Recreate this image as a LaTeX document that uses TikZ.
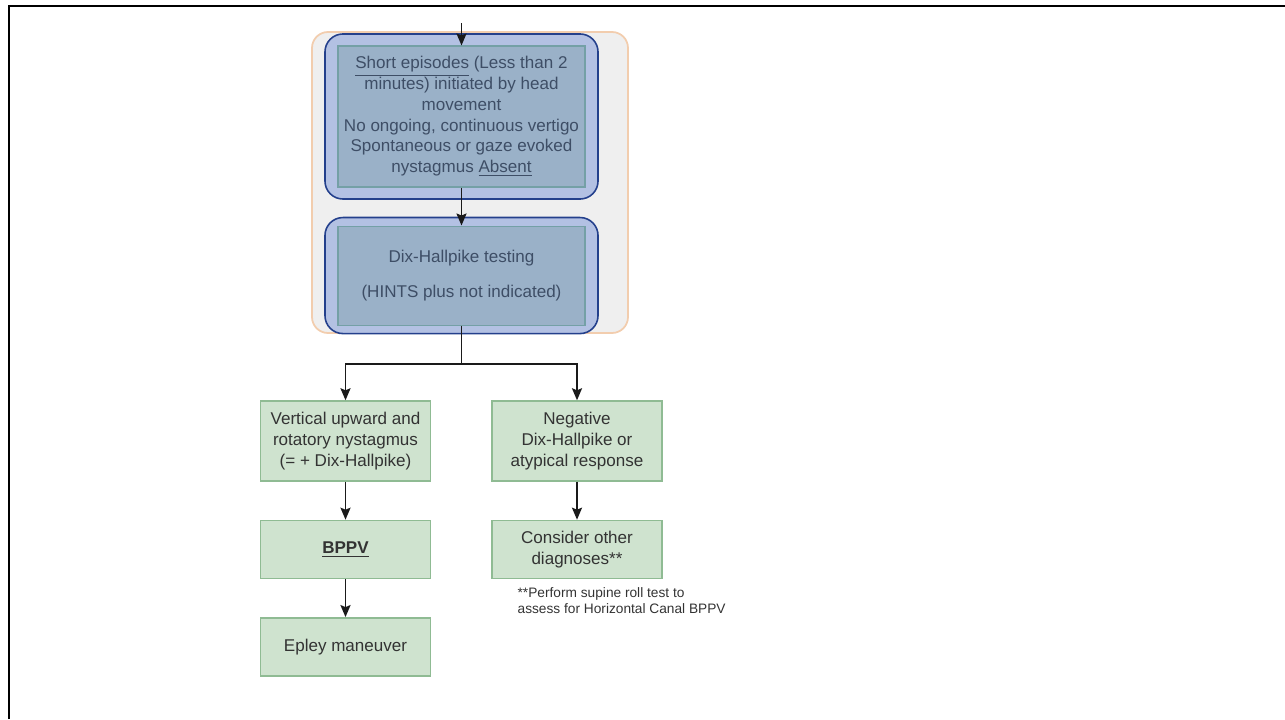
\documentclass[tikz,border=0pt]{standalone}
\usepackage{fontspec}
\setmainfont{Liberation Sans}
\usetikzlibrary{arrows.meta, positioning, fit, backgrounds}
\usepackage{xcolor}
\definecolor{panelfill}{HTML}{EFEFEF}
\definecolor{panelstr}{HTML}{F2CDAE}
\definecolor{bluefill}{HTML}{B3C1E3}
\definecolor{bluestr}{HTML}{24408C}
\definecolor{innerfill}{HTML}{9AB1C8}
\definecolor{innerstr}{HTML}{74A0A6}
\definecolor{bluetext}{HTML}{3E4E66}
\definecolor{greenfill}{HTML}{CFE3CF}
\definecolor{greenstr}{HTML}{8FBB93}
\definecolor{darktext}{HTML}{333333}
\definecolor{arrowcol}{HTML}{1A1A1A}
\tikzset{
  panel/.style   ={rectangle, rounded corners=0.32cm, draw=panelstr, fill=panelfill,
                   line width=1pt, minimum width=6.32cm, minimum height=6.02cm},
  bluebox/.style ={rectangle, rounded corners=0.36cm, draw=bluestr, fill=bluefill, line width=0.9pt},
  steptext/.style={rectangle, draw=innerstr, fill=innerfill, line width=0.6pt,
                   minimum width=4.94cm, inner sep=0pt, align=center, text=bluetext,
                   font=\fontsize{9.7}{11.8}\selectfont},
  gbox/.style    ={rectangle, draw=greenstr, fill=greenfill, line width=0.8pt,
                   minimum width=3.4cm, align=center, text=darktext,
                   font=\fontsize{9.7}{11.8}\selectfont},
  note/.style    ={align=left, inner sep=0pt, text=darktext, font=\fontsize{7.8}{9.3}\selectfont},
  flow/.style    ={-{Stealth[length=2.4mm, width=2mm, inset=0.4mm]}, line width=1.1pt, draw=arrowcol},
  frame/.style   ={line width=1.4pt, draw=black},
}
\begin{document}
\begin{tikzpicture}[node distance=0.76cm]
    \useasboundingbox (0,0) rectangle (25.7,-14.38);
    \draw[frame] (0.18,-14.38) |- (25.7,-0.12);
    \node[steptext, minimum height=2.82cm] (episodes) at (9.23,-2.33) {\underline{Short episodes} (Less than 2\\minutes) initiated by head\\movement\\No ongoing, continuous vertigo\\Spontaneous or gaze evoked\\nystagmus \underline{Absent}};
    \node[steptext, minimum height=1.98cm, below=of episodes] (dixtest) {Dix-Hallpike testing\\[8pt](HINTS plus not indicated)};
    \coordinate[above=0.44cm of episodes] (entry);
    \coordinate[below=of dixtest] (split);
    \node[gbox, minimum height=1.6cm] (vertical) at (6.91,-8.82) {Vertical upward and\\rotatory nystagmus\\(= + Dix-Hallpike)};
    \node[gbox, minimum height=1.6cm] (negative) at (11.54,-8.82) {Negative\\Dix-Hallpike or\\atypical response};
    \node[gbox, minimum height=1.16cm, below=of vertical] (bppv) {\underline{\textbf{BPPV}}};
    \node[gbox, minimum height=1.16cm, below=of bppv] (epley) {Epley maneuver};
    \node[gbox, minimum height=1.16cm, below=of negative] (consider) {Consider other\\diagnoses**};
    \node[note, below right=0.16cm and 0.52cm of consider.south west] (rolltest) {**Perform supine roll test to\\assess for Horizontal Canal BPPV};
    \begin{scope}[on background layer]
      \node[panel] (panel) at (9.4,-3.65) {};
      \node[bluebox, fit=(episodes), inner xsep=0.25cm, inner ysep=0.23cm] (episodesbox) {};
      \node[bluebox, fit=(dixtest), inner xsep=0.25cm, inner ysep=0.16cm] (dixbox) {};
    \end{scope}
    \draw[flow] (entry) -- (episodes);
    \draw[flow] (episodes) -- (dixtest);
    \draw[line width=1.1pt, draw=arrowcol] (dixtest) -- (split);
    \draw[flow] (split) -| (vertical);
    \draw[flow] (split) -| (negative);
    \draw[flow] (vertical) -- (bppv);
    \draw[flow] (bppv) -- (epley);
    \draw[flow] (negative) -- (consider);
  \end{tikzpicture}
\end{document}
